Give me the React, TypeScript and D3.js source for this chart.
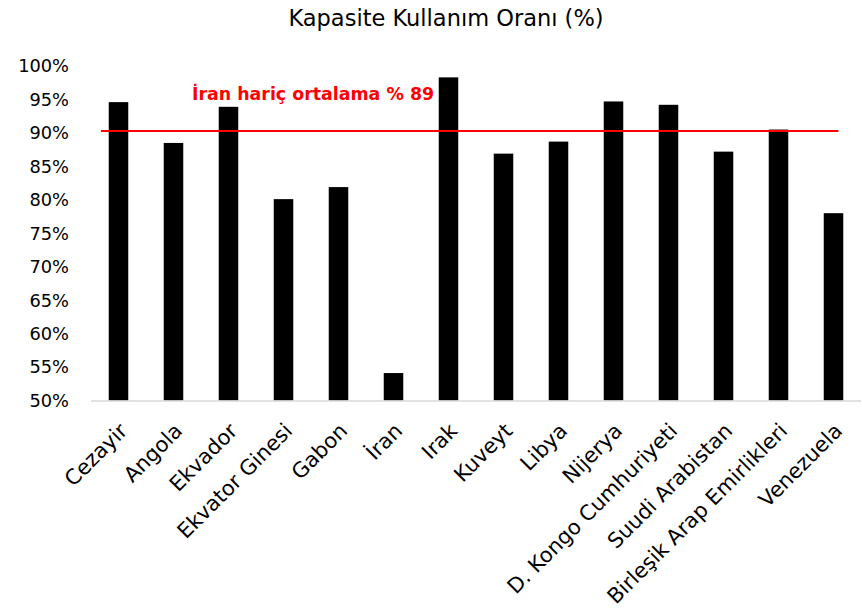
import React from "react";
import * as d3 from "d3";

const categories = [
  "Cezayir",
  "Angola",
  "Ekvador",
  "Ekvator Ginesi",
  "Gabon",
  "İran",
  "Irak",
  "Kuveyt",
  "Libya",
  "Nijerya",
  "D. Kongo Cumhuriyeti",
  "Suudi Arabistan",
  "Birleşik Arap Emirlikleri",
  "Venezuela",
];
const values = [94.6, 88.5, 93.9, 80.1, 81.9, 54.1, 98.3, 86.9, 88.7, 94.7, 94.2, 87.2, 90.5, 78.0];
const yTicks = [50, 55, 60, 65, 70, 75, 80, 85, 90, 95, 100];
const averageLine = 90.3;
const title = "Kapasite Kullanım Oranı (%)";
const averageLabel = "İran hariç ortalama % 89";

const W = 862;
const H = 613;
const FONT = "'DejaVu Sans', Verdana, sans-serif";

export default function App() {
  const x = d3.scaleBand<string>().domain(categories).range([91, 861]).paddingInner(0.645).paddingOuter(0.3225);
  const y = d3.scaleLinear().domain([50, 100]).range([400.5, 66]);
  const bw = x.bandwidth();
  const lineX1 = (x(categories[0]) as number) - bw * 0.4;
  const lineX2 = (x(categories[categories.length - 1]) as number) + bw * 0.75;

  return (
    <svg width={W} height={H} style={{ position: "absolute", left: 0, top: 0, background: "#fff" }} fontFamily={FONT}>
      <text x={446} y={26} textAnchor="middle" fontSize={22.5} fill="#000">
        {title}
      </text>
      {yTicks.map((t) => (
        <text key={t} x={69} y={y(t)} dy="0.36em" textAnchor="end" fontSize={17.8} fill="#000">
          {t}%
        </text>
      ))}
      {categories.map((c, i) => (
        <rect key={c} x={x(c)} y={y(values[i])} width={bw} height={y(50) - y(values[i])} fill="#000" />
      ))}
      <line x1={91} x2={861} y1={y(50) + 0.5} y2={y(50) + 0.5} stroke="#d9d9d9" strokeWidth={1.5} />
      <line x1={lineX1} x2={lineX2} y1={y(averageLine)} y2={y(averageLine)} stroke="#ff0000" strokeWidth={2} />
      <text x={192} y={100} fontSize={17.4} fontWeight="bold" fill="#ff0000">
        {averageLabel}
      </text>
      {categories.map((c) => {
        const cx = (x(c) as number) + bw / 2 + 5;
        const cy = 427;
        return (
          <text
            key={c}
            transform={`translate(${cx},${cy}) rotate(-45)`}
            textAnchor="end"
            dy="0.35em"
            fontSize={21}
            fill="#000"
          >
            {c}
          </text>
        );
      })}
    </svg>
  );
}
